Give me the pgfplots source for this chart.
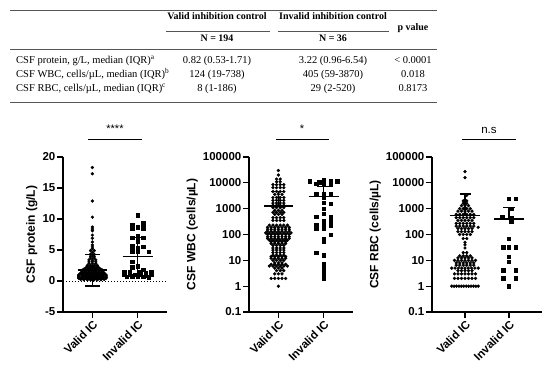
\documentclass[border=0pt]{standalone}
\usepackage{fontspec}
\setmainfont{Liberation Serif}
\newfontfamily\arialf{Liberation Sans}
\usepackage{pgfplots}
\pgfplotsset{compat=1.18}
\newcommand\tabf{\fontsize{10.5}{12}\selectfont}
\newcommand\tabb{\fontsize{10}{12}\selectfont\bfseries}
\newcommand\tickf{\arialf\bfseries\fontsize{11.5}{13}\selectfont}
\newcommand\labf{\arialf\bfseries\fontsize{12}{14}\selectfont}
\definecolor{rule}{HTML}{555555}
\pgfplotsset{
 gp/.style={
  scale only axis, height=155pt, anchor=south west,
  axis lines*=left,
  axis line style={line width=1.3pt, black},
  every tick/.style={line width=1.3pt, black},
  tick align=outside, major tick length=6pt,
  xtick={0,1}, xticklabels={Valid IC, Invalid IC},
  xticklabel style={rotate=45, anchor=north east, font=\tickf, inner sep=1pt},
  yticklabel style={font=\tickf, inner sep=1.5pt},
  ylabel style={font=\labf},
  clip=false,
 },
 vpts/.style={only marks, mark=*, mark size=1.45pt, black},
 ipts/.style={only marks, mark=square*, mark size=1.7pt, black},
 meanl/.style={black, line width=1.3pt, no marks},
 errl/.style={black, line width=1.1pt, no marks},
}
\begin{document}
\begin{tikzpicture}
\useasboundingbox (0pt,0pt) rectangle (550pt,-373pt);
% ---------- table ----------
\draw[rule, line width=1pt] (10pt,-10pt) -- (437pt,-10pt);
\draw[rule, line width=0.8pt] (166pt,-31pt) -- (270pt,-31pt);
\draw[rule, line width=0.8pt] (278pt,-31pt) -- (389pt,-31pt);
\draw[rule, line width=0.7pt] (10pt,-49pt) -- (437pt,-49pt);
\draw[rule, line width=1pt] (10pt,-102pt) -- (437pt,-102pt);
\node[font=\tabb, anchor=mid] at (217pt,-17pt) {Valid inhibition control};
\node[font=\tabb, anchor=mid] at (333pt,-17pt) {Invalid inhibition control};
\node[font=\tabb, anchor=mid] at (217pt,-39pt) {N = 194};
\node[font=\tabb, anchor=mid] at (333pt,-39pt) {N = 36};
\node[font=\tabb, anchor=mid] at (413pt,-28pt) {p value};
\node[font=\tabf, anchor=mid west, inner sep=0pt] at (16pt,-61pt) {CSF protein, g/L, median (IQR)\textsuperscript{a}};
\node[font=\tabf, anchor=mid west, inner sep=0pt] at (16pt,-75pt) {CSF WBC, cells/µL, median (IQR)\textsuperscript{b}};
\node[font=\tabf, anchor=mid west, inner sep=0pt] at (16pt,-89pt) {CSF RBC, cells/µL, median (IQR)\textsuperscript{c}};
\node[font=\tabf, anchor=mid] at (217pt,-61pt) {0.82 (0.53-1.71)};
\node[font=\tabf, anchor=mid] at (217pt,-75pt) {124 (19-738)};
\node[font=\tabf, anchor=mid] at (217pt,-89pt) {8 (1-186)};
\node[font=\tabf, anchor=mid] at (333pt,-61pt) {3.22 (0.96-6.54)};
\node[font=\tabf, anchor=mid] at (333pt,-75pt) {405 (59-3870)};
\node[font=\tabf, anchor=mid] at (333pt,-89pt) {29 (2-520)};
\node[font=\tabf, anchor=mid] at (413pt,-61pt) {< 0.0001};
\node[font=\tabf, anchor=mid] at (413pt,-75pt) {0.018};
\node[font=\tabf, anchor=mid] at (413pt,-89pt) {0.8173};
% ---------- significance ----------
\draw[line width=0.8pt] (88pt,-139pt) -- (142pt,-139pt);
\node[font=\arialf\fontsize{11}{12}\selectfont, anchor=base] at (115pt,-132pt) {****};
\draw[line width=0.8pt] (276pt,-139pt) -- (329pt,-139pt);
\node[font=\arialf\fontsize{11}{12}\selectfont, anchor=base] at (302pt,-132pt) {*};
\draw[line width=0.8pt] (462pt,-139pt) -- (516pt,-139pt);
\node[font=\arialf\fontsize{11.5}{12}\selectfont, anchor=base] at (489pt,-133pt) {n.s};
% ---------- plot 1 ----------
\begin{axis}[gp, at={(63pt,-312pt)}, width=104pt, xmin=-0.65, xmax=1.65,
  ymin=-5, ymax=20, ytick={-5,0,5,10,15,20}, yticklabels={-5,0,5,10,15,20},
  ylabel={CSF protein (g/L)}]
\addplot[black, line width=1pt, dash pattern=on 1pt off 2pt] coordinates {(-0.65,0) (1.65,0)};
\addplot[vpts] table[row sep=\\] {x y\\
0 18.3\\ 0 17.3\\ 0 12.9\\ 0 10.3\\ 0 8.7\\ 0 8.4\\ 0 8.1\\ 0 7.4\\ 0 6.9\\ 0 6.3\\ 0 5.8\\ 0 5.5\\ 0 5.2\\
-0.04 4.9\\ 0.04 4.9\\ 0 4.6\\ -0.04 4.3\\ 0.04 4.3\\ -0.04 4.0\\ 0.04 4.0\\ -0.04 3.7\\ 0.04 3.7\\
-0.075 3.4\\ 0 3.4\\ 0.075 3.4\\ -0.075 3.1\\ 0 3.1\\ 0.075 3.1\\ -0.075 2.8\\ 0 2.8\\ 0.075 2.8\\
-0.11 2.5\\ -0.04 2.5\\ 0.04 2.5\\ 0.11 2.5\\ -0.11 2.3\\ -0.04 2.3\\ 0.04 2.3\\ 0.11 2.3\\
-0.15 2.1\\ -0.075 2.1\\ 0 2.1\\ 0.075 2.1\\ 0.15 2.1\\
-0.19 1.9\\ -0.11 1.9\\ -0.04 1.9\\ 0.04 1.9\\ 0.11 1.9\\ 0.19 1.9\\
-0.225 1.75\\ -0.15 1.75\\ -0.075 1.75\\ 0 1.75\\ 0.075 1.75\\ 0.15 1.75\\ 0.225 1.75\\
-0.225 1.6\\ -0.15 1.6\\ -0.075 1.6\\ 0 1.6\\ 0.075 1.6\\ 0.15 1.6\\ 0.225 1.6\\
-0.225 1.45\\ -0.15 1.45\\ -0.075 1.45\\ 0 1.45\\ 0.075 1.45\\ 0.15 1.45\\ 0.225 1.45\\
-0.26 1.3\\ -0.19 1.3\\ -0.11 1.3\\ -0.04 1.3\\ 0.04 1.3\\ 0.11 1.3\\ 0.19 1.3\\ 0.26 1.3\\
-0.26 1.15\\ -0.19 1.15\\ -0.11 1.15\\ -0.04 1.15\\ 0.04 1.15\\ 0.11 1.15\\ 0.19 1.15\\ 0.26 1.15\\
-0.3 1.0\\ -0.225 1.0\\ -0.15 1.0\\ -0.075 1.0\\ 0 1.0\\ 0.075 1.0\\ 0.15 1.0\\ 0.225 1.0\\ 0.3 1.0\\
-0.3 0.9\\ -0.225 0.9\\ -0.15 0.9\\ -0.075 0.9\\ 0 0.9\\ 0.075 0.9\\ 0.15 0.9\\ 0.225 0.9\\ 0.3 0.9\\
-0.11 0.85\\ -0.04 0.85\\ 0.04 0.85\\ 0.11 0.85\\
-0.3 0.8\\ -0.225 0.8\\ -0.15 0.8\\ -0.075 0.8\\ 0 0.8\\ 0.075 0.8\\ 0.15 0.8\\ 0.225 0.8\\ 0.3 0.8\\
-0.3 0.72\\ -0.225 0.72\\ -0.15 0.72\\ -0.075 0.72\\ 0 0.72\\ 0.075 0.72\\ 0.15 0.72\\ 0.225 0.72\\ 0.3 0.72\\
-0.3 0.64\\ -0.225 0.64\\ -0.15 0.64\\ -0.075 0.64\\ 0 0.64\\ 0.075 0.64\\ 0.15 0.64\\ 0.225 0.64\\ 0.3 0.64\\
-0.3 0.56\\ -0.225 0.56\\ -0.15 0.56\\ -0.075 0.56\\ 0 0.56\\ 0.075 0.56\\ 0.15 0.56\\ 0.225 0.56\\ 0.3 0.56\\
-0.3 0.5\\ -0.225 0.5\\ -0.15 0.5\\ -0.075 0.5\\ 0 0.5\\ 0.075 0.5\\ 0.15 0.5\\ 0.225 0.5\\ 0.3 0.5\\
-0.3 0.44\\ -0.225 0.44\\ -0.15 0.44\\ -0.075 0.44\\ 0 0.44\\ 0.075 0.44\\ 0.15 0.44\\ 0.225 0.44\\ 0.3 0.44\\
-0.26 0.38\\ -0.19 0.38\\ -0.11 0.38\\ -0.04 0.38\\ 0.04 0.38\\ 0.11 0.38\\ 0.19 0.38\\ 0.26 0.38\\
-0.26 0.32\\ -0.19 0.32\\ -0.11 0.32\\ -0.04 0.32\\ 0.04 0.32\\ 0.11 0.32\\ 0.19 0.32\\ 0.26 0.32\\
-0.26 0.26\\ -0.19 0.26\\ -0.11 0.26\\ -0.04 0.26\\ 0.04 0.26\\ 0.11 0.26\\ 0.19 0.26\\ 0.26 0.26\\
-0.19 0.2\\ -0.11 0.2\\ -0.04 0.2\\ 0.04 0.2\\ 0.11 0.2\\ 0.19 0.2\\ 0 0.15\\
};
\addplot[ipts] table[row sep=\\] {x y\\
1 10.6\\ 1.12 9.3\\ 0.88 9.0\\ 1 8.7\\ 1.12 8.5\\ 0.88 8.4\\ 1 7.2\\ 0.88 7.0\\ 1.12 7.0\\ 1 6.4\\
0.88 5.6\\ 1.12 5.5\\ 1 5.4\\ 0.88 4.8\\ 1 4.7\\ 1.24 4.7\\ 0.88 3.1\\ 1 2.4\\ 0.88 2.2\\ 1.12 1.8\\
0.7 1.4\\ 0.82 1.4\\ 1.06 1.5\\ 1.18 1.3\\ 1.3 1.4\\
0.7 1.0\\ 0.82 1.1\\ 0.94 1.0\\ 1.06 1.1\\ 1.18 0.9\\ 1.3 1.0\\
0.76 0.7\\ 0.88 0.8\\ 1 0.7\\ 1.12 0.7\\ 1.24 0.6\\
};
\addplot[meanl] coordinates {(-0.32,1.77) (0.32,1.77)};
\addplot[errl] coordinates {(0,-0.8) (0,4.3)};
\addplot[errl] coordinates {(-0.16,4.3) (0.16,4.3)};
\addplot[errl] coordinates {(-0.16,-0.8) (0.16,-0.8)};
\addplot[meanl] coordinates {(0.67,3.9) (1.33,3.9)};
\addplot[errl] coordinates {(1,0.8) (1,7.0)};
\addplot[errl] coordinates {(0.87,7.0) (1.13,7.0)};
\addplot[errl] coordinates {(0.87,0.8) (1.13,0.8)};
\end{axis}
% ---------- plot 2 ----------
\begin{axis}[gp, at={(249pt,-312pt)}, width=104pt, xmin=-0.65, xmax=1.65,
  ymode=log, ymin=0.1, ymax=100000, yminorticks=false,
  ytick={0.1,1,10,100,1000,10000,100000}, yticklabels={0.1,1,10,100,1000,10000,100000},
  ylabel={CSF WBC (cells/µL)}]
\addplot[vpts] table[row sep=\\] {x y\\
0 1\\
-0.16 2\\ -0.08 2\\ 0 2\\ 0.08 2\\ 0.16 2\\
-0.08 3\\ 0 3\\ 0.08 3\\ -0.04 4\\ 0.04 4\\ 0.12 4\\ -0.08 5\\ 0 5\\ 0.08 5\\
-0.2 6\\ -0.12 6\\ -0.04 6\\ 0.04 6\\ 0.12 6\\ 0.2 6\\
-0.16 7\\ -0.08 7\\ 0 7\\ 0.08 7\\ 0.16 7\\ -0.08 8\\ 0 8\\ 0.08 8\\
-0.12 10\\ -0.04 10\\ 0.04 10\\ 0.12 10\\
-0.16 12\\ -0.08 12\\ 0 12\\ 0.08 12\\ 0.16 12\\
-0.16 14\\ -0.08 14\\ 0 14\\ 0.08 14\\ 0.16 14\\
-0.12 16\\ -0.04 16\\ 0.04 16\\ 0.12 16\\
-0.12 20\\ -0.04 20\\ 0.04 20\\ 0.12 20\\
-0.12 25\\ -0.04 25\\ 0.04 25\\ 0.12 25\\
-0.12 30\\ -0.04 30\\ 0.04 30\\ 0.12 30\\
-0.12 38\\ -0.04 38\\ 0.04 38\\ 0.12 38\\
-0.16 45\\ -0.08 45\\ 0 45\\ 0.08 45\\ 0.16 45\\
-0.16 52\\ -0.08 52\\ 0 52\\ 0.08 52\\ 0.16 52\\
-0.2 60\\ -0.12 60\\ -0.04 60\\ 0.04 60\\ 0.12 60\\ 0.2 60\\
-0.24 70\\ -0.16 70\\ -0.08 70\\ 0 70\\ 0.08 70\\ 0.16 70\\ 0.24 70\\
-0.24 82\\ -0.16 82\\ -0.08 82\\ 0 82\\ 0.08 82\\ 0.16 82\\ 0.24 82\\
-0.24 100\\ -0.16 100\\ -0.08 100\\ 0 100\\ 0.08 100\\ 0.16 100\\ 0.24 100\\
-0.28 115\\ -0.2 115\\ -0.12 115\\ -0.04 115\\ 0.04 115\\ 0.12 115\\ 0.2 115\\ 0.28 115\\
-0.24 135\\ -0.16 135\\ -0.08 135\\ 0 135\\ 0.08 135\\ 0.16 135\\ 0.24 135\\
-0.24 160\\ -0.16 160\\ -0.08 160\\ 0 160\\ 0.08 160\\ 0.16 160\\ 0.24 160\\
-0.24 190\\ -0.16 190\\ -0.08 190\\ 0 190\\ 0.08 190\\ 0.16 190\\ 0.24 190\\
-0.2 230\\ -0.12 230\\ -0.04 230\\ 0.04 230\\ 0.12 230\\ 0.2 230\\
-0.12 350\\ -0.04 350\\ 0.04 350\\ 0.12 350\\
-0.12 450\\ -0.04 450\\ 0.04 450\\ 0.12 450\\
-0.08 600\\ 0 600\\ 0.08 600\\
-0.12 720\\ -0.04 720\\ 0.04 720\\ 0.12 720\\
-0.08 860\\ 0 860\\ 0.08 860\\
-0.12 1100\\ -0.04 1100\\ 0.04 1100\\ 0.12 1100\\
-0.12 1350\\ -0.04 1350\\ 0.04 1350\\ 0.12 1350\\
-0.12 1650\\ -0.04 1650\\ 0.04 1650\\ 0.12 1650\\
-0.12 2100\\ -0.04 2100\\ 0.04 2100\\ 0.12 2100\\
-0.12 2700\\ -0.04 2700\\ 0.04 2700\\ 0.12 2700\\
-0.08 3600\\ 0 3600\\ 0.08 3600\\
-0.12 4600\\ -0.04 4600\\ 0.04 4600\\ 0.12 4600\\
-0.12 6500\\ -0.04 6500\\ 0.04 6500\\ 0.12 6500\\
-0.12 8500\\ -0.04 8500\\ 0.04 8500\\ 0.12 8500\\
-0.04 11000\\ 0.04 11000\\ -0.04 14000\\ 0.04 14000\\ 0 20000\\ 0 30000\\
};
\addplot[ipts] table[row sep=\\] {x y\\
0.69 11500\\ 0.9 10500\\ 1 13500\\ 1.16 11500\\ 1.3 11500\\ 0.84 9500\\ 1 9000\\ 1.16 9000\\ 1 11000\\
0.84 3800\\ 1 3800\\ 1.16 3600\\ 1 2800\\ 1 1700\\ 1.16 1600\\ 1 1000\\ 1 650\\ 0.84 480\\ 1.16 470\\
1 350\\ 1.16 330\\ 1 260\\ 0.84 240\\ 1.16 230\\ 0.84 170\\ 1 175\\ 1.16 100\\ 1 70\\ 1 55\\
0.84 20\\ 1 16\\ 1 7.5\\ 1 5.5\\ 1 4\\ 1 3\\ 1 2\\
};
\addplot[meanl] coordinates {(-0.32,1260) (0.32,1260)};
\addplot[errl] coordinates {(0,1260) (0,4560)};
\addplot[errl] coordinates {(-0.155,4560) (0.155,4560)};
\addplot[meanl] coordinates {(0.67,2900) (1.33,2900)};
\addplot[errl] coordinates {(1,2900) (1,7100)};
\addplot[errl] coordinates {(0.845,7100) (1.155,7100)};
\end{axis}
% ---------- plot 3 ----------
\begin{axis}[gp, at={(432pt,-312pt)}, width=110pt, xmin=-0.75, xmax=1.75,
  ymode=log, ymin=0.1, ymax=100000, yminorticks=false,
  ytick={0.1,1,10,100,1000,10000,100000}, yticklabels={0.1,1,10,100,1000,10000,100000},
  ylabel={CSF RBC (cells/µL)}]
\addplot[vpts] table[row sep=\\] {x y\\
-0.3025 1\\ -0.2475 1\\ -0.1925 1\\ -0.1375 1\\ -0.0825 1\\ -0.0275 1\\ 0.0275 1\\ 0.0825 1\\ 0.1375 1\\ 0.1925 1\\ 0.2475 1\\ 0.3025 1\\
-0.24 2\\ -0.16 2\\ -0.08 2\\ 0 2\\ 0.08 2\\ 0.16 2\\ 0.24 2\\
-0.24 3\\ -0.16 3\\ -0.08 3\\ 0 3\\ 0.08 3\\ 0.16 3\\ 0.24 3\\
-0.16 4\\ -0.08 4\\ 0 4\\ 0.08 4\\ 0.16 4\\
-0.3 5\\ -0.225 5\\ -0.15 5\\ -0.075 5\\ 0 5\\ 0.075 5\\ 0.15 5\\ 0.225 5\\ 0.3 5\\
-0.2 6.5\\ -0.12 6.5\\ -0.04 6.5\\ 0.04 6.5\\ 0.12 6.5\\ 0.2 6.5\\
-0.2 8\\ -0.12 8\\ -0.04 8\\ 0.04 8\\ 0.12 8\\ 0.2 8\\
-0.24 10\\ -0.16 10\\ -0.08 10\\ 0 10\\ 0.08 10\\ 0.16 10\\ 0.24 10\\
-0.16 12.5\\ -0.08 12.5\\ 0 12.5\\ 0.08 12.5\\ 0.16 12.5\\
-0.12 15\\ -0.04 15\\ 0.04 15\\ 0.12 15\\
-0.04 20\\ 0.04 20\\ 0 30\\ 0 40\\ 0 50\\ -0.04 70\\ 0.04 70\\
-0.12 100\\ -0.04 100\\ 0.04 100\\ 0.12 100\\
-0.16 130\\ -0.08 130\\ 0 130\\ 0.08 130\\ 0.16 130\\
-0.16 170\\ -0.08 170\\ 0 170\\ 0.08 170\\ 0.16 170\\ 0.3 190\\
-0.2 210\\ -0.12 210\\ -0.04 210\\ 0.04 210\\ 0.12 210\\ 0.2 210\\
-0.2 270\\ -0.12 270\\ -0.04 270\\ 0.04 270\\ 0.12 270\\ 0.2 270\\
-0.16 350\\ -0.08 350\\ 0 350\\ 0.08 350\\ 0.16 350\\
-0.2 450\\ -0.12 450\\ -0.04 450\\ 0.04 450\\ 0.12 450\\ 0.2 450\\
-0.2 600\\ -0.12 600\\ -0.04 600\\ 0.04 600\\ 0.12 600\\ 0.2 600\\
-0.16 800\\ -0.08 800\\ 0 800\\ 0.08 800\\ 0.16 800\\
-0.12 1000\\ -0.04 1000\\ 0.04 1000\\ 0.12 1000\\
-0.08 1300\\ 0 1300\\ 0.08 1300\\ -0.04 1600\\ 0.04 1600\\ -0.04 2000\\ 0.04 2000\\
0.04 3300\\ 0 16000\\ 0 27000\\
};
\addplot[ipts] table[row sep=\\] {x y\\
1 2400\\ 1.15 2400\\ 1.05 1000\\ 0.85 480\\ 1.05 450\\ 1.05 330\\ 1 70\\ 0.87 32\\ 1 32\\ 1.15 32\\
1 14\\ 1 9\\ 0.87 4.2\\ 1.15 4.2\\ 0.87 2\\ 1.15 2\\ 1 1\\
};
\addplot[meanl] coordinates {(-0.35,540) (0.35,540)};
\addplot[errl] coordinates {(0,540) (0,3700)};
\addplot[errl] coordinates {(-0.125,3700) (0.125,3700)};
\addplot[meanl] coordinates {(0.66,400) (1.34,400)};
\addplot[errl] coordinates {(1,400) (1,1120)};
\addplot[errl] coordinates {(0.86,1120) (1.14,1120)};
\end{axis}
\end{tikzpicture}
\end{document}
